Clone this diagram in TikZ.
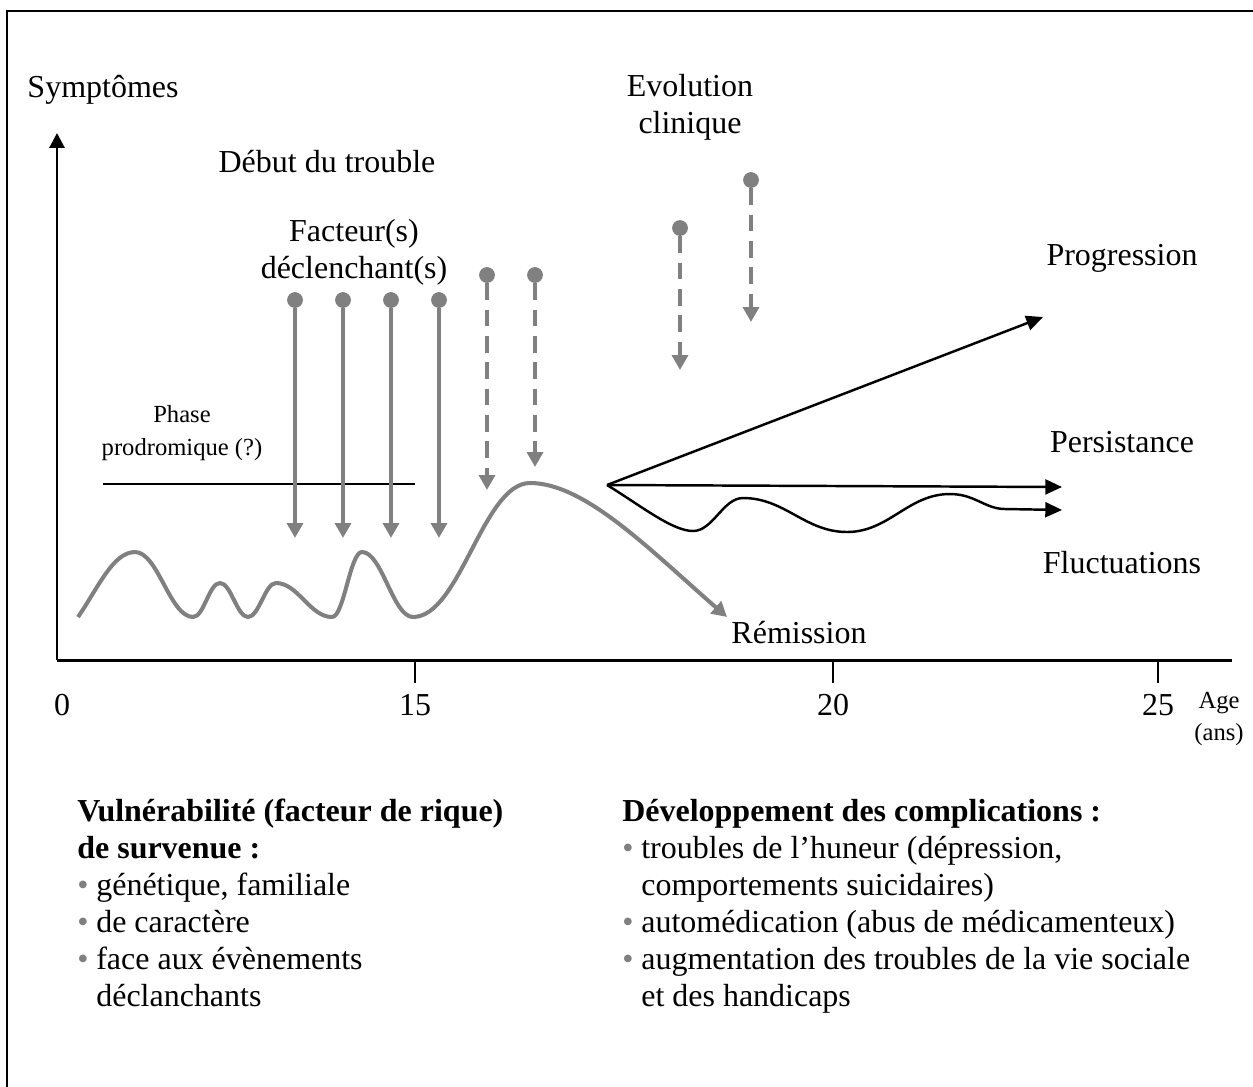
\documentclass[tikz,border=0pt]{standalone}
\usepackage{fontspec}
\setmainfont{Liberation Serif}
\usetikzlibrary{arrows.meta}

\definecolor{trgray}{RGB}{128,128,128}
\newcommand{\itemdot}{\makebox[0.38cm][l]{\textcolor{trgray}{•}}}

\tikzset{
  lbl/.style={font=\fontsize{18.2}{21}\selectfont, inner sep=0pt, align=center},
  small/.style={font=\fontsize{14}{18.5}\selectfont, inner sep=0pt, align=center},
  block/.style={font=\fontsize{18.2}{21}\selectfont, inner sep=0pt, align=left, anchor=north west},
  axisline/.style={line width=1.7pt},
  yarrow/.style={line width=1.7pt, -{Triangle[length=8.5pt,width=8.5pt]}},
  trig/.style={trgray, line width=2.3pt, -{Triangle[length=8.5pt,width=9pt]}},
  trigdash/.style={trig, dash pattern=on 9.5pt off 5.5pt},
  dot/.style={circle, fill=trgray, inner sep=0pt, minimum size=9pt},
  wave/.style={trgray, line width=2.3pt},
  evol/.style={line width=1.4pt, -{Triangle[length=9.5pt,width=8.5pt]}},
}

\begin{document}
\begin{tikzpicture}[x=0.02cm, y=-0.02cm]
  \useasboundingbox (0,0) rectangle (1253,1086);
  \draw[line width=1.7pt] (7,1090) |- (1260,11);

  % axes
  \coordinate (O) at (57,660);
  \coordinate (ytip) at (57,133);
  \coordinate (xend) at (1232,660);
  \draw[axisline] (O) -- (xend);
  \draw[yarrow] (O) -- (ytip);
  \node[lbl] (sympt) at (103,90) {Symptômes};
  \node[lbl] (t0) at (62,705) {0};
  \foreach \x/\t in {415/15, 833/20, 1158/25}
  {
    \draw[line width=1.4pt] (\x,660) -- (\x,683);
    \node[lbl] (t\t) at (\x,705) {\t};
  }
  \node[small] (age) at (1219,719) {Age\\(ans)};

  % phase prodromique
  \node[small] (phase) at (182,433) {Phase\\prodromique (?)};
  \draw[line width=1pt] (103,484) -- (415,484);

  % facteurs declenchants
  \node[lbl] (debut) at (327,162) {Début du trouble};
  \node[lbl] (fact) at (354,252) {Facteur(s)\\déclenchant(s)};
  \foreach \x [count=\i] in {295,343,391,439}
  {
    \node[dot] (f\i) at (\x,300) {};
    \coordinate (ft\i) at (\x,538);
    \draw[trig] (f\i) -- (ft\i);
  }
  \foreach \x/\ya/\yb [count=\i] in {487/275/490, 535/275/467, 680/228/370, 751/180/322}
  {
    \node[dot] (d\i) at (\x,\ya) {};
    \coordinate (dt\i) at (\x,\yb);
    \draw[trigdash] (d\i) -- (dt\i);
  }

  % symptomes
  \draw[wave] (78,617) .. controls (98,588) and (113,552) .. (135,552)
    .. controls +(23,0) and +(-23,0) .. (193,617)
    .. controls +(11,0) and +(-11,0) .. (220,583)
    .. controls +(11,0) and +(-11,0) .. (248,617)
    .. controls +(11,0) and +(-11,0) .. (276,583)
    .. controls +(22,0) and +(-22,0) .. (332,617)
    .. controls +(12,0) and +(-12,0) .. (362,552)
    .. controls +(20,0) and +(-20,0) .. (413,617)
    .. controls +(47,0) and +(-47,0) .. (530,483);
  \draw[trig] (530,483) .. controls (585,483) and (650,550) .. (727,617);
  \node[lbl] (remis) at (799,633) {Rémission};

  % evolution clinique
  \node[lbl] (evol) at (690,107) {Evolution\\clinique};
  \coordinate (e0) at (607,485);
  \coordinate (prog) at (1043,317);
  \coordinate (pers) at (1062,487);
  \coordinate (fluc) at (1062,510);
  \draw[evol] (e0) -- (prog);
  \draw[evol] (e0) -- (pers);
  \draw[evol] (e0) .. controls (640,505) and (672,531) .. (693,531)
    .. controls +(20,0) and +(-20,0) .. (743,498)
    .. controls +(42,0) and +(-42,0) .. (847,532)
    .. controls +(42,0) and +(-42,0) .. (950,494)
    .. controls (975,494) and (985,509) .. (1005,509)
    -- (fluc);
  \node[lbl] (progl) at (1122,258) {Progression};
  \node[lbl] (persl) at (1122,442) {Persistance};
  \node[lbl] (flucl) at (1122,563) {Fluctuations};

  % textes du bas
  \node[block] (vuln) at (77,799) {\textbf{Vulnérabilité (facteur de rique)}\\
    \textbf{de survenue :}\\
    \itemdot génétique, familiale\\
    \itemdot de caractère\\
    \itemdot face aux évènements\\
    \hspace*{0.38cm}déclanchants};
  \node[block] (compl) at (622,799) {\textbf{Développement des complications :}\\
    \itemdot troubles de l’huneur (dépression,\\
    \hspace*{0.38cm}comportements suicidaires)\\
    \itemdot automédication (abus de médicamenteux)\\
    \itemdot augmentation des troubles de la vie sociale\\
    \hspace*{0.38cm}et des handicaps};
\end{tikzpicture}
\end{document}
